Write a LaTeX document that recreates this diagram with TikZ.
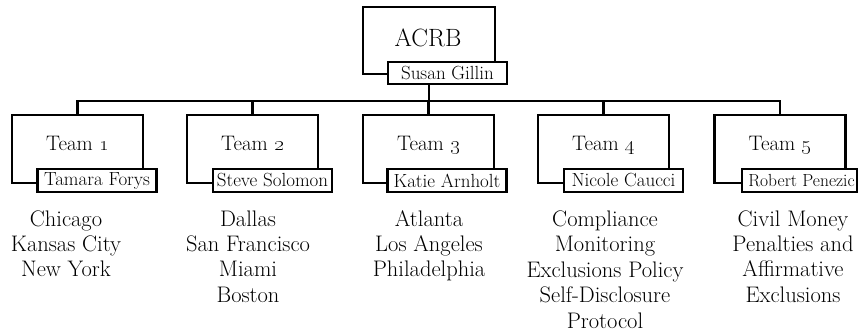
\documentclass[tikz,border=0pt]{standalone}
\usetikzlibrary{positioning}
\begin{document}
\begin{tikzpicture}[x=1pt,y=-1pt,
  box/.style={draw=black,line width=2.4pt,rectangle,inner sep=0pt,minimum width=131pt,minimum height=68pt},
  namebox/.style={draw=black,line width=2.4pt,fill=white,rectangle,inner sep=0pt,minimum width=119pt,minimum height=23pt,font=\fontsize{19}{21}\selectfont},
  teamlbl/.style={inner sep=0pt,anchor=base,font=\fontsize{21}{24}\selectfont},
  toplbl/.style={inner sep=0pt,anchor=base,font=\fontsize{25}{28}\selectfont},
  list/.style={inner sep=0pt,anchor=base,align=center,font=\fontsize{22.5}{25.5}\selectfont},
  wire/.style={line width=2.4pt}]
\useasboundingbox (0,0) rectangle (860,331);
% top box
\node[box,minimum width=132pt,minimum height=67pt] (acrb) at (429,40.5) {};
\node[toplbl] (acrbt) at (428,47) {ACRB};
% team boxes
\node[box] (t1) at (77.5,149) {};
\node[box] (t2) at (252.5,149) {};
\node[box] (t3) at (428.5,149) {};
\node[box] (t4) at (603.5,149) {};
\node[box] (t5) at (780,149) {};
% connectors
\coordinate (bus) at (429,101);
\draw[wire] (t1.north) |- (bus) -| (t5.north);
\draw[wire] (t2.north) -- (t2.north |- bus);
\draw[wire] (t3.north) -- (t3.north |- bus);
\draw[wire] (t4.north) -- (t4.north |- bus);
% name boxes
\node[namebox,minimum height=22pt] (n0) at (447.5,73) {Susan Gillin};
\draw[wire] (n0.south -| acrb.center) -- (bus);
\node[namebox] (n1) at (97,180.5) {Tamara Forys};
\node[namebox] (n2) at (272.5,180.5) {Steve Solomon};
\node[namebox] (n3) at (447,180.5) {Katie Arnholt};
\node[namebox] (n4) at (623.5,180.5) {Nicole Caucci};
\node[namebox,minimum width=115pt,font=\fontsize{17.5}{20}\selectfont] (n5) at (799.5,180.5) {\hspace{4pt}Robert Penezic};
% team labels
\node[teamlbl] (l1) at (77.5,150.5) {Team \oldstylenums{1}};
\node[teamlbl] (l2) at (252.5,150.5) {Team \oldstylenums{2}};
\node[teamlbl] (l3) at (428.5,150.5) {Team \oldstylenums{3}};
\node[teamlbl] (l4) at (603.5,150.5) {Team \oldstylenums{4}};
\node[teamlbl] (l5) at (780,150.5) {Team \oldstylenums{5}};
% lists (anchor = baseline of the last line)
\node[list] (c1) at (66,277) {Chicago\\Kansas City\\New York};
\node[list] (c2) at (248,302.5) {Dallas\\San Francisco\\Miami\\Boston};
\node[list] (c3) at (429,277) {Atlanta\\Los Angeles\\Philadelphia};
\node[list] (c4) at (605,328) {Compliance\\Monitoring\\Exclusions Policy\\Self-Disclosure\\Protocol};
\node[list] (c5) at (793,302.5) {Civil Money\\Penalties and\\Affirmative\\Exclusions};
\end{tikzpicture}
\end{document}
